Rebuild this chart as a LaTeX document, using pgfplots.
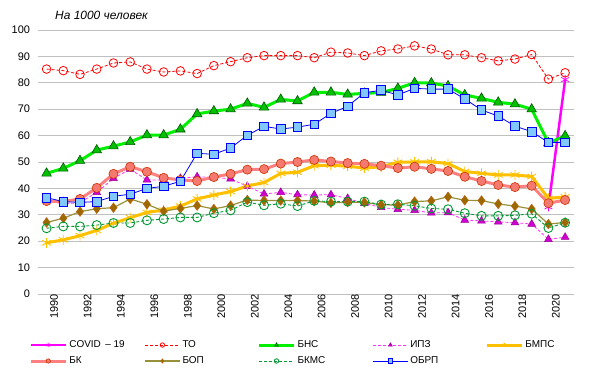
\documentclass[border=0pt]{standalone}
\usepackage{pgfplots}
\usepackage{pgfplotstable}
\pgfplotsset{compat=1.18}
\usepackage{fontspec}
\setmainfont{Liberation Sans}
\definecolor{cTO}{HTML}{FF0000}
\definecolor{cBNS}{HTML}{00F000}
\definecolor{cBNSf}{HTML}{00C000}
\definecolor{cBNSd}{HTML}{005500}
\definecolor{cIPZ}{HTML}{FF33FF}
\definecolor{cIPZf}{HTML}{D000D0}
\definecolor{cIPZd}{HTML}{990099}
\definecolor{cBMPS}{HTML}{FFC000}
\definecolor{cBK}{HTML}{FF8080}
\definecolor{cBKf}{HTML}{F47A70}
\definecolor{cBKd}{HTML}{CC3300}
\definecolor{cBOP}{HTML}{99903A}
\definecolor{cBOPf}{HTML}{9A6A00}
\definecolor{cBOPd}{HTML}{C06010}
\definecolor{cBKMS}{HTML}{009933}
\definecolor{cOBRP}{HTML}{0000FF}
\definecolor{cOBRPf}{HTML}{80C8FF}
\definecolor{cGrid}{HTML}{C0C0C0}
\definecolor{cCOV}{HTML}{FF00FF}

\pgfplotstableread{
year TO BNS IPZ BMPS BK BOP BKMS OBRP
1990 85.2 45.7 35.4 19.4 35.2 27.1 24.9 36.5
1991 84.6 47.6 34.1 20.5 35.0 28.7 25.6 35.0
1992 83.2 50.5 34.6 22.1 36.0 31.2 25.6 34.7
1993 85.2 54.5 38.5 24.1 40.2 32.3 26.1 35.0
1994 87.5 56.0 43.8 26.8 45.5 32.7 26.9 37.0
1995 87.9 57.6 47.3 28.9 48.2 36.0 26.9 37.8
1996 85.2 60.2 43.2 30.9 46.3 34.0 27.9 40.0
1997 84.1 60.2 43.2 31.8 44.0 31.4 28.4 40.8
1998 84.5 62.4 43.8 33.3 43.2 32.4 29.0 42.7
1999 83.5 68.2 44.4 36.0 42.8 33.5 29.0 53.3
2000 86.5 69.3 44.2 37.5 44.3 32.2 30.6 52.9
2001 88.0 70.0 43.6 38.8 45.5 33.5 31.7 55.3
2002 89.5 72.2 40.8 40.9 47.1 35.6 34.8 60.1
2003 90.3 70.7 37.9 42.2 47.3 35.4 33.6 63.5
2004 90.3 73.7 38.5 45.7 49.4 35.4 34.2 62.5
2005 90.3 73.1 37.6 46.1 50.0 35.4 33.3 63.2
2006 89.5 76.4 37.5 48.6 50.8 35.2 35.3 64.3
2007 91.6 76.4 37.6 48.8 50.2 34.5 35.0 68.4
2008 91.3 75.6 36.2 48.4 49.6 34.8 35.0 71.1
2009 90.3 76.0 34.3 47.7 49.3 34.7 35.0 76.2
2010 92.1 76.3 32.8 48.2 48.6 33.8 33.9 77.2
2011 92.8 77.9 32.1 49.9 47.7 33.7 34.0 75.4
2012 94.0 80.0 31.7 50.0 48.2 35.0 33.4 77.9
2013 92.8 79.9 30.7 50.1 47.4 35.3 32.4 77.6
2014 90.6 78.8 30.8 49.4 46.6 36.8 32.1 77.6
2015 90.6 75.4 28.0 46.4 44.4 35.5 30.6 73.9
2016 89.5 74.1 27.7 45.7 42.8 35.4 29.6 69.7
2017 88.3 72.6 27.3 45.1 41.3 34.1 29.6 67.4
2018 89.0 71.9 27.0 45.1 40.5 33.3 29.8 63.6
2019 90.7 70.0 26.5 44.5 41.0 32.2 30.4 61.5
2020 81.4 57.2 20.7 36.2 34.4 26.5 25.0 57.4
2021 83.8 59.9 21.5 36.8 35.6 27.1 27.0 57.4
}\datatable

\begin{document}
\begin{tikzpicture}
\path[use as bounding box] (-38.2bp,-80bp) rectangle (567.8bp,294bp);
\begin{axis}[
  scale only axis,
  width=535.3bp, height=264bp,
  xmin=1989.5, xmax=2021.5,
  ymin=0, ymax=100,
  ytick={0,10,...,100},
  xtick={1990,1992,...,2020},
  ymajorgrids,
  grid style={draw=cGrid, line width=0.8bp},
  axis line style={draw=none},
  major tick length=0pt,
  /pgf/number format/assume math mode=true,
  /pgf/number format/1000 sep={},
  tick label style={font=\fontsize{11}{13}\selectfont},
  yticklabel style={anchor=east, inner sep=0pt, xshift=-8bp},
  xticklabel style={rotate=90, anchor=east, inner sep=0pt, yshift=-7.5bp},
  legend columns=5,
  legend cell align=left,
  legend style={draw=none, fill=none, inner sep=0pt, outer sep=0pt,
    at={(axis description cs:-0.0166,-0.1686)}, anchor=north west,
    font=\fontsize{10}{12}\selectfont, column sep=0pt, row sep=3bp,
    nodes={inner sep=2bp, text height=7.2bp, text depth=1.8bp}},
  legend image code/.code={%
    \draw[#1,mark=none] (0bp,0bp) -- (35bp,0bp);
    \draw[#1,mark size=2.2bp] plot[only marks] coordinates {(17.5bp,0bp)};},
]
% COVID
\addplot[color=cCOV, line width=2.5bp, mark=asterisk, mark size=4.5bp,
  mark options={solid, line width=0.8bp}]
  coordinates {(2020,33.0) (2021,81.2)};
\addlegendentry{\makebox[73bp][l]{COVID \,– 19}}
% TO
\addplot[color=cTO, line width=0.8bp, dash pattern=on 3bp off 2bp, mark=o, mark size=4.3bp,
  mark options={solid, fill=white, line width=0.8bp}]
  table[x=year, y=TO] {\datatable};
\addlegendentry{\makebox[73bp][l]{ТО}}
% BNS
\addplot[color=cBNS, line width=3bp, mark=triangle*, mark size=5.5bp,
  mark options={solid, fill=cBNSf, draw=cBNSd, line width=0.6bp}]
  table[x=year, y=BNS] {\datatable};
\addlegendentry{\makebox[73bp][l]{БНС}}
% IPZ
\addplot[color=cIPZ, line width=0.8bp, dash pattern=on 3bp off 2bp, mark=triangle*, mark size=4.5bp,
  mark options={solid, fill=cIPZf, draw=cIPZd, line width=0.5bp}]
  table[x=year, y=IPZ] {\datatable};
\addlegendentry{\makebox[73bp][l]{ИПЗ}}
% BMPS
\addplot[color=cBMPS, line width=3bp, mark=asterisk, mark size=5bp,
  mark options={solid, line width=0.9bp}]
  table[x=year, y=BMPS] {\datatable};
\addlegendentry{\makebox[73bp][l]{БМПС}}
% BK
\addplot[color=cBK, line width=3bp, mark=*, mark size=4.6bp,
  mark options={solid, fill=cBKf, draw=cBKd, line width=0.6bp}]
  table[x=year, y=BK] {\datatable};
\addlegendentry{\makebox[73bp][l]{БК}}
% BOP
\addplot[color=cBOP, line width=1.2bp, mark=diamond*, mark size=4.8bp,
  mark options={solid, fill=cBOPf, draw=cBOPd, line width=0.5bp}]
  table[x=year, y=BOP] {\datatable};
\addlegendentry{\makebox[73bp][l]{БОП}}
% BKMS
\addplot[color=cBKMS, line width=0.9bp, dash pattern=on 3bp off 2bp, mark=o, mark size=4.5bp,
  mark options={solid, fill=white, line width=0.9bp}]
  table[x=year, y=BKMS] {\datatable};
\addlegendentry{\makebox[73bp][l]{БКМС}}
% OBRP
\addplot[color=cOBRP, line width=0.8bp, mark=square*, mark size=4.3bp,
  mark options={solid, fill=cOBRPf, draw=cOBRP, line width=0.8bp}]
  table[x=year, y=OBRP] {\datatable};
\addlegendentry{\makebox[73bp][l]{ОБРП}}
\end{axis}
\node[anchor=base west, inner sep=0pt, font=\fontsize{12}{14}\selectfont\itshape] at (16.8bp,274bp) {На 1000 человек};
\end{tikzpicture}
\end{document}
